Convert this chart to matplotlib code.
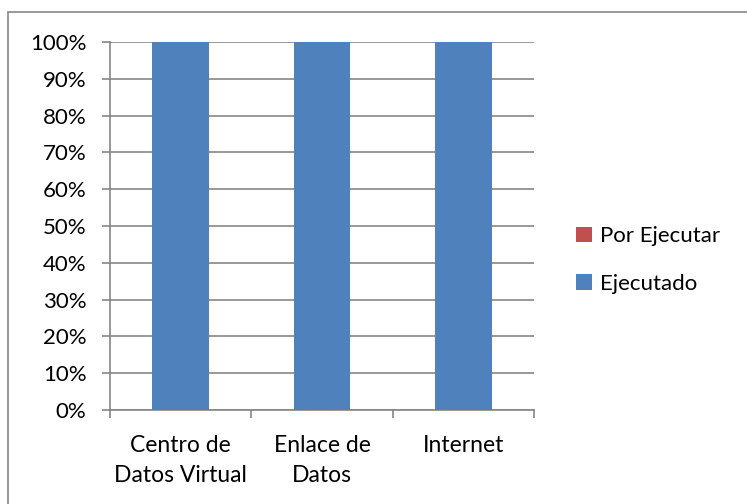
import matplotlib.pyplot as plt
from matplotlib.patches import Rectangle
from matplotlib.ticker import PercentFormatter

plt.rcParams['font.family'] = ['Lato', 'DejaVu Sans']

categorias = ['Centro de\nDatos Virtual', 'Enlace de\nDatos', 'Internet']
ejecutado = [1.0, 1.0, 1.0]
por_ejecutar = [0.0, 0.0, 0.0]

azul = '#4F81BD'
rojo = '#C0504D'
gris = '#868686'

fig = plt.figure(figsize=(7.47, 5.04), dpi=100)
# marco del grafico (solo se ven los bordes superior e izquierdo)
fig.patches.append(Rectangle((8 / 747, -0.1), 1.1, 0.1 + (504 - 12) / 504,
                             transform=fig.transFigure, fill=False,
                             edgecolor=gris, linewidth=1.2))

ax = fig.add_axes([110 / 747, (504 - 410) / 504, (534 - 110) / 747, (410 - 42) / 504])
x = range(len(categorias))
ax.bar(x, ejecutado, width=0.4, color=azul, label='Ejecutado', zorder=3)
ax.bar(x, por_ejecutar, width=0.4, bottom=ejecutado, color=rojo,
       label='Por Ejecutar', zorder=3)

ax.set_xlim(-0.5, 2.5)
ax.set_ylim(0, 1)
ax.set_yticks([i / 10 for i in range(11)])
ax.yaxis.set_major_formatter(PercentFormatter(1.0, decimals=0))
ax.set_xticks([-0.5, 0.5, 1.5, 2.5])
ax.set_xticklabels([])
ax.set_xticks(list(x), minor=True)
ax.set_xticklabels(categorias, minor=True, fontsize=16.5, linespacing=1.55)
ax.tick_params(axis='x', which='minor', length=0, pad=18)
ax.tick_params(axis='x', which='major', length=6, color=gris, width=1.2)
ax.tick_params(axis='y', length=6, color=gris, width=1.2, labelsize=16, pad=11)

ax.grid(axis='y', color=gris, linewidth=1.2, zorder=0)
for lado in ['top', 'right']:
    ax.spines[lado].set_visible(False)
for lado in ['left', 'bottom']:
    ax.spines[lado].set_color(gris)
    ax.spines[lado].set_linewidth(1.2)

h, l = ax.get_legend_handles_labels()
fig.legend(h[::-1], l[::-1], loc='center left', bbox_to_anchor=(556 / 747, (504 - 260) / 504),
           frameon=False, fontsize=16, handlelength=0.7, handleheight=0.7,
           handletextpad=0.4, labelspacing=1.25)

fig.savefig('out.png', dpi=100)
